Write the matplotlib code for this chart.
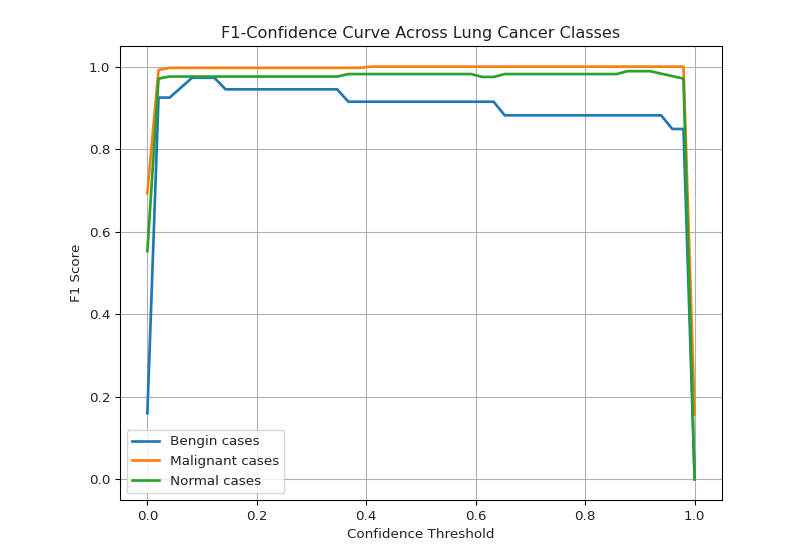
import matplotlib
matplotlib.use("Agg")
import matplotlib.pyplot as plt

# Breakpoints (threshold, F1)
benign_x = [0.0, 0.0204, 0.0408, 0.0816, 0.1224, 0.1429, 0.3469, 0.3673, 0.6327, 0.6531, 0.9388, 0.9592, 0.9796, 1.0]
benign_y = [0.16, 0.925, 0.925, 0.973, 0.973, 0.945, 0.945, 0.915, 0.915, 0.882, 0.882, 0.849, 0.849, 0.0]

malig_x = [0.0, 0.0204, 0.0408, 0.3878, 0.4082, 0.9796, 1.0]
malig_y = [0.693, 0.992, 0.997, 0.997, 1.0, 1.0, 0.157]

normal_x = [0.0, 0.0204, 0.0408, 0.3469, 0.3673, 0.5918, 0.6122, 0.6327, 0.6531, 0.8571, 0.8776, 0.9184, 0.9796, 1.0]
normal_y = [0.553, 0.971, 0.976, 0.976, 0.982, 0.982, 0.975, 0.975, 0.982, 0.982, 0.989, 0.989, 0.971, 0.0]

labels = ["Bengin cases", "Malignant cases", "Normal cases"]

s = 0.97
plt.rcParams.update({
    "font.size": 10 * s,
    "axes.titlesize": 12 * s,
    "axes.linewidth": 0.8 * s,
    "grid.linewidth": 0.8 * s,
    "xtick.major.width": 0.8 * s,
    "ytick.major.width": 0.8 * s,
    "xtick.major.size": 3.5 * s,
    "ytick.major.size": 3.5 * s,
    "text.color": "#222222",
    "axes.labelcolor": "#222222",
    "xtick.labelcolor": "#222222",
    "ytick.labelcolor": "#222222",
})

fig = plt.figure(figsize=(8.06, 5.55), dpi=100)
ax = fig.add_axes([120/806, (555-500)/555, (722-120)/806, (500-46)/555])

ax.plot(benign_x, benign_y, linewidth=2 * s, label=labels[0])
ax.plot(malig_x, malig_y, linewidth=2 * s, label=labels[1])
ax.plot(normal_x, normal_y, linewidth=2 * s, label=labels[2])

ax.set_title("F1-Confidence Curve Across Lung Cancer Classes")
ax.set_xlabel("Confidence Threshold")
ax.set_ylabel("F1 Score")
ax.grid(True)
ax.legend(loc="lower left")

fig.savefig("out.png", dpi=100)
